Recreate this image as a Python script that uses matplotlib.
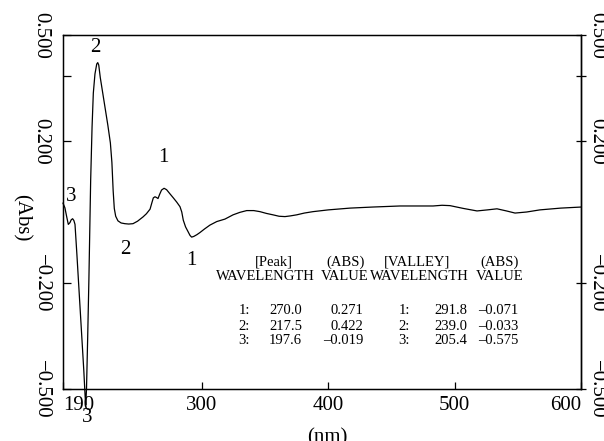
import numpy as np
import matplotlib
matplotlib.use('Agg')
import matplotlib.pyplot as plt

# spectrum (nm, Abs)
wavelength = [190.0, 191.5, 192.9, 194.2, 195.5, 196.5, 197.6, 198.6, 199.5, 201.0,
              203.0, 205.0, 206.5, 207.5, 208.0, 208.6, 209.5, 210.5, 211.9, 213.0,
              214.0, 215.3, 216.7, 217.5, 218.3, 219.5, 221.5, 223.5, 225.5, 227.5,
              228.7, 229.7, 230.6, 231.7, 233.5, 236.0, 239.0, 242.0, 245.4, 249.0,
              253.3, 256.0, 258.9, 260.5, 261.5, 262.8, 264.0, 265.2, 266.5, 268.0,
              270.0, 272.0, 274.5, 277.3, 280.0, 282.6, 284.0, 285.2, 287.0, 289.2,
              290.5, 291.8, 293.5, 296.0, 298.4, 302.0, 306.3, 311.7, 318.2, 324.6,
              330.0, 335.4, 341.0, 345.9, 351.0, 356.2, 361.0, 365.7, 370.0, 375.0,
              381.0, 387.9, 400.0, 417.2, 435.0, 456.7, 470.0, 482.9, 490.0, 496.3,
              507.0, 517.7, 526.0, 533.5, 541.0, 547.8, 557.0, 567.5, 584.0, 600.0]
absorbance = [0.025, 0.012, -0.013, -0.035, -0.030, -0.022, -0.019, -0.024, -0.035, -0.12,
              -0.24, -0.36, -0.45, -0.52, -0.545, -0.50, -0.36, -0.19, 0.09, 0.24,
              0.336, 0.39, 0.418, 0.422, 0.415, 0.38, 0.335, 0.29, 0.245, 0.195,
              0.14, 0.06, 0.01, -0.012, -0.025, -0.031, -0.033, -0.034, -0.033, -0.026,
              -0.014, -0.005, 0.008, 0.028, 0.040, 0.043, 0.041, 0.038, 0.050, 0.062,
              0.067, 0.063, 0.052, 0.040, 0.028, 0.015, 0.000, -0.023, -0.042, -0.057,
              -0.066, -0.071, -0.069, -0.064, -0.058, -0.048, -0.037, -0.027, -0.020, -0.008,
              -0.001, 0.004, 0.004, 0.001, -0.004, -0.008, -0.012, -0.013, -0.011, -0.008,
              -0.003, 0.001, 0.006, 0.011, 0.014, 0.017, 0.017, 0.017, 0.019, 0.018,
              0.010, 0.003, 0.006, 0.009, 0.003, -0.003, 0.000, 0.006, 0.011, 0.014]

# peak / valley table
peak_wl = [270.0, 217.5, 197.6]
peak_abs = [0.271, 0.422, -0.019]
valley_wl = [291.8, 239.0, 205.4]
valley_abs = [-0.071, -0.033, -0.575]

x_ticks = [190, 300, 400, 500, 600]
y_ticks = [-0.5, -0.2, 0.2, 0.385, 0.5]
y_labels = ['\u22120.500', '\u22120.200', '0.200', '', '0.500']

plt.rcParams['font.family'] = ['Liberation Serif', 'DejaVu Serif']

W, H = 604, 441
fig = plt.figure(figsize=(W / 100, H / 100), dpi=100)
ax = fig.add_axes([63 / W, 1 - 389 / H, 518 / W, 354 / H])

ax.plot(wavelength, absorbance, color='black', lw=0.9, clip_on=False)
ax.set_xlim(190, 600)
ax.set_ylim(-0.5, 0.5)

for sp in ax.spines.values():
    sp.set_linewidth(1.0)

# x axis
ax.set_xticks(x_ticks)
ax.set_xticklabels([str(t) for t in x_ticks])
ax.tick_params(axis='x', direction='in', length=5, width=0.9, pad=5, labelsize=15, top=False)
xl = ax.get_xticklabels()
xl[0].set_ha('left')
xl[-1].set_ha('right')

# y axis, left
ax.set_yticks(y_ticks)
ax.set_yticklabels(y_labels)
ax.tick_params(axis='y', direction='in', length=6, width=0.9, pad=9, labelsize=15,
               labelrotation=-90, right=False)
for lab in ax.get_yticklabels():
    lab.set_va('center')

# y axis, right
ax2 = ax.twinx()
ax2.set_ylim(ax.get_ylim())
ax2.set_yticks(y_ticks)
ax2.set_yticklabels(y_labels)
ax2.tick_params(axis='y', direction='inout', length=7, width=0.9, pad=1, labelsize=15,
                labelrotation=-90)
for lab in ax2.get_yticklabels():
    lab.set_va('center')
ax2.spines['right'].set_linewidth(1.0)

ax.set_ylabel('(Abs)', fontsize=15, rotation=-90, va='center', ha='center')
ax.yaxis.set_label_coords((21 - 63) / 518, (389 - 218) / 354)
ax.set_xlabel('(nm)', fontsize=15)
ax.xaxis.label.set_va('center')
ax.xaxis.set_label_coords(0.5 + 5 / 518, (389 - 438) / 354)

# peak / valley numbers on the curve
peak_off = [(-0.8, 22.5), (-2, 11.2), (-0.7, 15.8)]
valley_off = [(0, -16.5), (0, -18.9), (3.2, -50)]
for i, (wl, off) in enumerate(zip(peak_wl, peak_off)):
    ax.annotate(str(i + 1), xy=(wl, np.interp(wl, wavelength, absorbance)),
                xytext=off, textcoords='offset points', ha='center', va='center',
                fontsize=15, annotation_clip=False)
for i, (wl, off) in enumerate(zip(valley_wl, valley_off)):
    ax.annotate(str(i + 1), xy=(wl, np.interp(wl, wavelength, absorbance)),
                xytext=off, textcoords='offset points', ha='center', va='center',
                fontsize=15, annotation_clip=False)


def put(px, py, s, ha='center'):
    fig.text(px / W, 1 - py / H, s, ha=ha, va='center', fontsize=10.5)


def fmt(v):
    return f'{v:.3f}'.replace('-', '\u2013')


# table
put(274, 262, '[Peak]')
put(265, 277, 'WAVELENGTH')
put(346, 262, '(ABS)')
put(345, 277, 'VALUE')
put(417, 262, '[VALLEY]')
put(419, 277, 'WAVELENGTH')
put(500, 262, '(ABS)')
put(500, 277, 'VALUE')
row_y = [310, 326, 341]
for i in range(3):
    put(250, row_y[i], f'{i + 1}:', ha='right')
    put(302, row_y[i], f'{peak_wl[i]:.1f}', ha='right')
    put(363, row_y[i], fmt(peak_abs[i]), ha='right')
    put(410, row_y[i], f'{i + 1}:', ha='right')
    put(467, row_y[i], f'{valley_wl[i]:.1f}', ha='right')
    put(518, row_y[i], fmt(valley_abs[i]), ha='right')

fig.savefig('out.png', dpi=100)
